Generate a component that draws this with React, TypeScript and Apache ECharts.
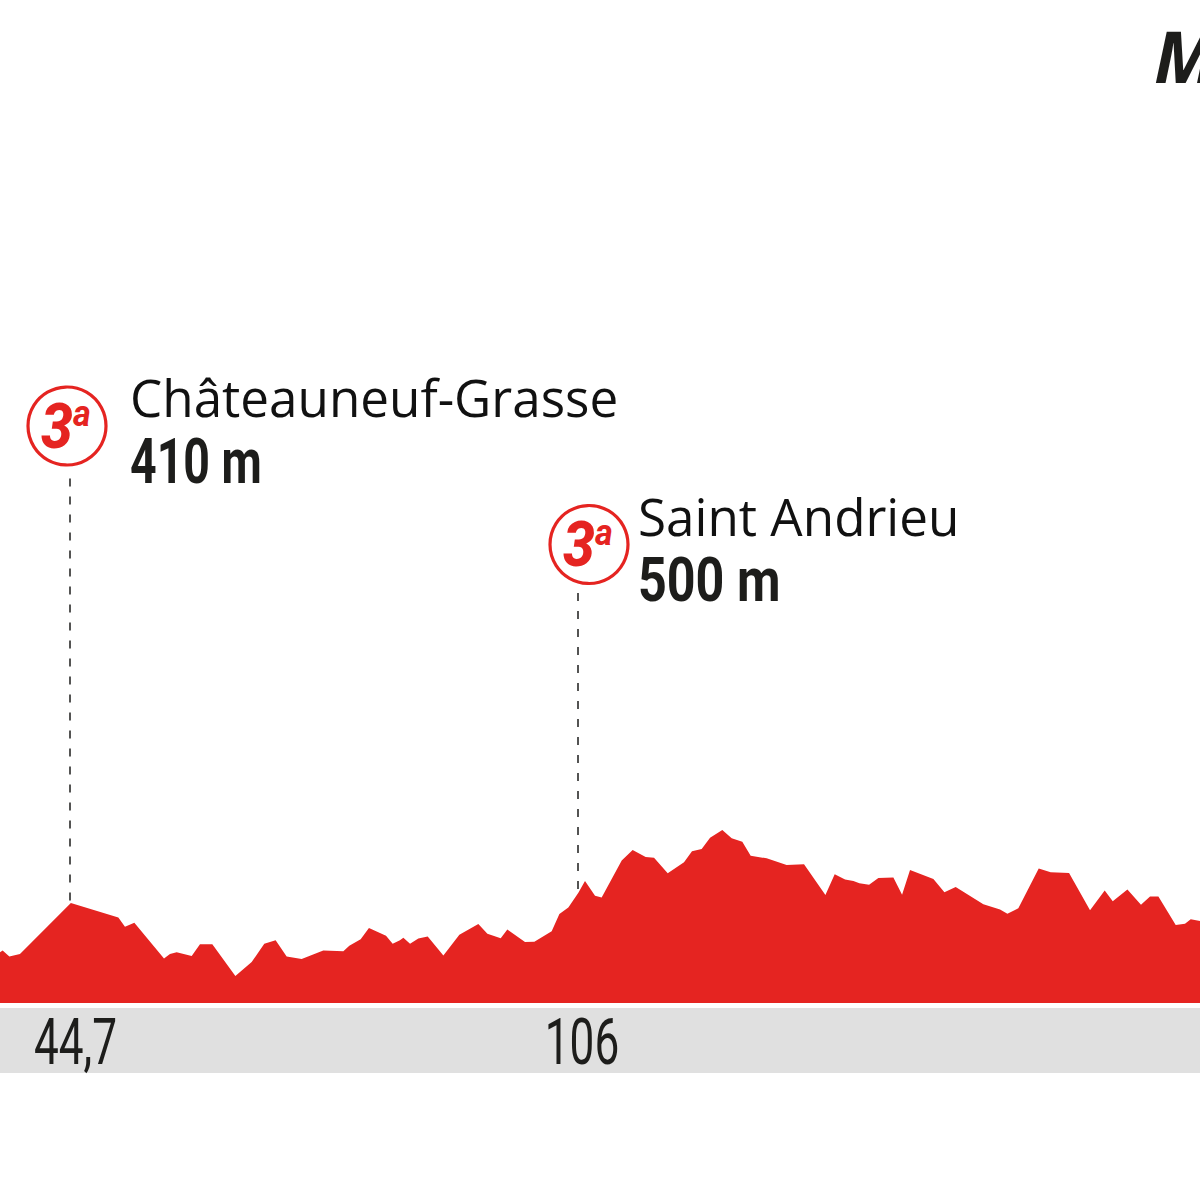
import React, { useEffect, useRef } from "react";
import * as echarts from "echarts";

const distancesKm = [
  36.25, 36.57, 37.38, 38.66, 44.8, 50.53, 51.33, 52.46, 56.04, 56.76, 57.57, 59.38, 60.38, 61.87, 64.65, 66.62,
  68.14, 69.51, 70.84, 72.65, 75.26, 77.68, 78.4, 79.77, 80.77, 82.83, 83.63, 84.51, 84.92, 85.73, 86.73, 87.86,
  89.75, 91.68, 93.97, 95.06, 96.67, 97.47, 99.6, 100.73, 102.82, 103.75, 104.83, 106.04, 106.84, 108.05, 108.85,
  111.27, 112.59, 114.16, 115.17, 116.82, 118.79, 119.75, 120.92, 121.93, 123.41, 124.54, 125.82, 126.83, 128.76,
  131.17, 133.27, 135.85, 136.97, 138.22, 139.23, 139.95, 141.12, 142.24, 144.05, 145.1, 146.06, 148.88, 150.21,
  151.57, 154.91, 156.92, 157.81, 159.13, 161.59, 163.03, 165.25, 167.78, 169.55, 170.52, 172.29, 173.93, 175.02,
  176.03, 178.12, 179.24, 179.93, 181.05,
];
const elevationsM = [
  208, 215, 191, 201, 410, 351, 313, 329, 182, 201, 208, 193, 241, 241, 111, 168,
  243, 257, 191, 180, 215, 212, 235, 261, 307, 276, 243, 257, 268, 243, 264, 273,
  195, 280, 324, 284, 265, 301, 250, 251, 294, 365, 392, 452, 500, 440, 433,
  584, 627, 599, 596, 532, 577, 622, 631, 678, 709, 675, 661, 604, 593,
  566, 569, 443, 528, 506, 500, 491, 485, 513, 515, 444, 545, 508, 454,
  476, 405, 383, 366, 388, 551, 536, 533, 380, 461, 417, 465, 403, 437,
  437, 320, 325, 343, 336,
];
const climbKm = [44.7, 106];
const climbBase = [410, 452];
const climbTop = [2150, 1681];
const climbNames = ["Châteauneuf-Grasse", "Saint Andrieu"];
const climbHeights = ["410 m", "500 m"];
const kmLabels = ["44,7", "106"];
const categoryLabel = "3";
const categorySuffix = "a";
const headerLetter = "M";

const RED = "#E52421";
const INK = "#1D1D1B";

function climbBadge(cx: number, cy: number) {
  return [
    { type: "circle", shape: { cx, cy, r: 39 }, style: { fill: "#fff", stroke: RED, lineWidth: 3.2 } },
    {
      type: "text", x: cx - 26, y: cy + 1, scaleX: 0.92,
      style: { text: categoryLabel, font: "italic 800 62px Roboto", fill: RED, verticalAlign: "middle" },
    },
    {
      type: "text", x: cx + 6, y: cy - 12, scaleX: 0.95,
      style: { text: categorySuffix, font: "italic 700 36px Roboto", fill: RED, verticalAlign: "middle" },
    },
  ];
}

function nameText(x: number, y: number, text: string) {
  return {
    type: "text", x, y,
    style: { text, font: "400 51.2px 'Open Sans'", fill: "#111", verticalAlign: "middle" },
  };
}

function heightText(x: number, y: number, text: string, scaleX: number) {
  return {
    type: "text", x, y, scaleX,
    style: { text, font: "700 62px Roboto", fill: INK, verticalAlign: "middle" },
  };
}

function kmText(cx: number, text: string) {
  return {
    type: "text", x: cx, y: 1042, scaleX: 0.69,
    style: { text, font: "400 64px Roboto", fill: INK, textAlign: "center", verticalAlign: "middle" },
  };
}

export default function App() {
  const ref = useRef<HTMLDivElement>(null);
  useEffect(() => {
    const chart = echarts.init(ref.current!, undefined, { renderer: "svg" });
    chart.setOption({
      animation: false,
      backgroundColor: "#fff",
      grid: { left: 0, right: 0, top: 3, height: 1000 },
      xAxis: { type: "value", min: 36.25, max: 181.05, show: false },
      yAxis: { type: "value", min: 0, max: 4100, show: false },
      series: [
        {
          type: "line",
          silent: true,
          showSymbol: false,
          lineStyle: { width: 0 },
          itemStyle: { color: RED },
          areaStyle: { color: RED, opacity: 1, origin: "start" },
          data: distancesKm.map((d, i) => [d, elevationsM[i]]),
          markLine: {
            silent: true,
            symbol: "none",
            label: { show: false },
            lineStyle: { color: INK, width: 1.5, type: [8, 10], opacity: 1 },
            data: climbKm.map((km, i) => [
              { coord: [km, climbTop[i]] },
              { coord: [km, climbBase[i]] },
            ]),
          },
        },
      ],
      graphic: [
        { type: "rect", shape: { x: 0, y: 1008, width: 1200, height: 65 }, style: { fill: "#E0E0E0" } },
        kmText(75.5, kmLabels[0]),
        kmText(582, kmLabels[1]),
        ...climbBadge(67, 426),
        ...climbBadge(589, 544.5),
        nameText(130, 397, climbNames[0]),
        heightText(130, 462, climbHeights[0], 0.75),
        nameText(638, 516, climbNames[1]),
        heightText(638, 580, climbHeights[1], 0.81),
        {
          type: "text", x: 1154, y: 55,
          style: { text: headerLetter, font: "italic 700 72px 'Open Sans'", fill: INK, verticalAlign: "middle" },
        },
      ],
    });
    return () => chart.dispose();
  }, []);
  return <div ref={ref} style={{ position: "fixed", left: 0, top: 0, width: 1200, height: 1200 }} />;
}
